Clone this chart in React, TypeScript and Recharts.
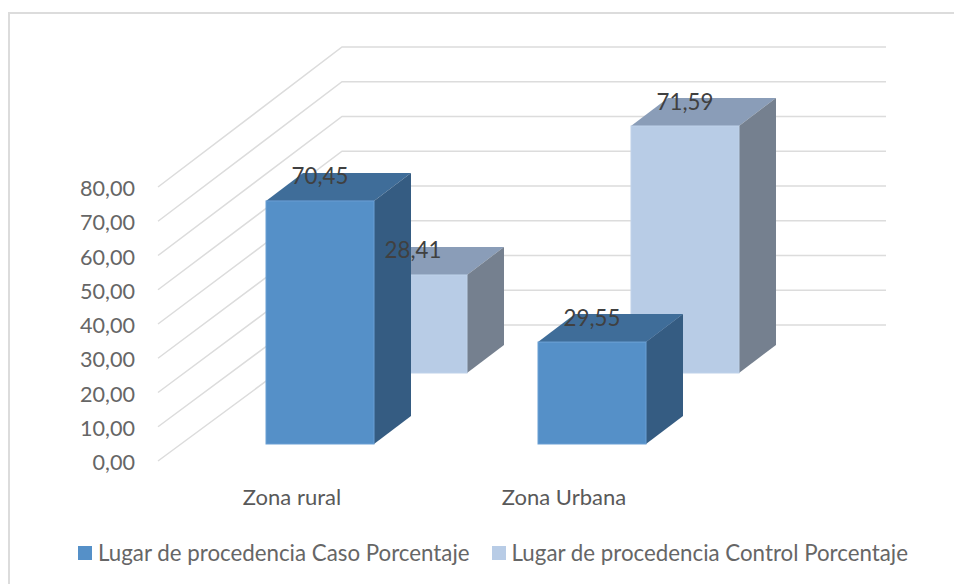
import React from "react";
import { BarChart, Bar, XAxis, YAxis, CartesianGrid, Legend, LabelList } from "recharts";

const categories = ["Zona rural", "Zona Urbana"];
const casoValues = [70.45, 29.55];
const controlValues = [28.41, 71.59];
const yTicks = [0, 10, 20, 30, 40, 50, 60, 70, 80];
const seriesNames = ["Lugar de procedencia Caso Porcentaje", "Lugar de procedencia Control Porcentaje"];

const rows = categories.map((name, i) => ({ name, caso: casoValues[i], control: controlValues[i] }));

const FONT = "Lato, 'Open Sans', sans-serif";
const DEPTH_X = 37;
const DEPTH_Y = -28;
const BACK_X = 93;
const BACK_Y = -71;
const ZERO_Y = 444;
const CASO = { face: "#5590c8", top: "#3f6d99", side: "#355c82", edge: "#6a9fd4" };
const CONTROL = { face: "#b8cce6", top: "#8a9db8", side: "#75808f", edge: "#bfd2ea" };

const fmt = (v: number) => v.toFixed(2).replace(".", ",");

function Box({ x, y, width, height, colors, dx = 0, dy = 0 }: any) {
  const l = x + dx;
  const r = x + width + dx;
  const t = y + dy;
  const b = y + height + dy;
  return (
    <g>
      <polygon points={`${l},${t} ${l + DEPTH_X},${t + DEPTH_Y} ${r + DEPTH_X},${t + DEPTH_Y} ${r},${t}`} fill={colors.top} />
      <polygon points={`${r},${t} ${r + DEPTH_X},${t + DEPTH_Y} ${r + DEPTH_X},${b + DEPTH_Y} ${r},${b}`} fill={colors.side} />
      <rect x={l} y={t} width={width} height={b - t} fill={colors.face} stroke={colors.edge} strokeWidth={1} />
    </g>
  );
}

const frontShape = (p: any) => <Box {...p} colors={CASO} />;
const backShape = (p: any) => <Box {...p} colors={CONTROL} dx={BACK_X} dy={BACK_Y} />;
const noShape = () => <g />;

const valueLabel = (dx: number, dy: number) => (p: any) => (
  <text
    x={p.x + p.width / 2 + dx}
    y={p.y + dy - 25}
    textAnchor="middle"
    dominantBaseline="central"
    fontFamily={FONT}
    fontSize={22.3}
    fill="#404040"
  >
    {fmt(Number(p.value))}
  </text>
);

const gridLine = (p: any) => {
  const rel = p.y1 - ZERO_Y;
  const fy = 461 + rel * (3.425 / 3.45);
  const by = 325 + rel * (3.475 / 3.45);
  return (
    <polyline
      key={p.key ?? p.y1}
      points={`158,${fy} 342,${by} 886,${by}`}
      fill="none"
      stroke="#dcdcdc"
      strokeWidth={1.5}
    />
  );
};

const YTick = (p: any) => {
  const rel = p.y - ZERO_Y;
  return (
    <text x={135} y={462 + rel * (3.425 / 3.45)} textAnchor="end" dominantBaseline="central" fontFamily={FONT} fontSize={21.6} fill="#666666">
      {fmt(Number(p.payload.value))}
    </text>
  );
};

const XTick = (p: any) => (
  <text x={p.x - 28} y={496} textAnchor="middle" dominantBaseline="central" fontFamily={FONT} fontSize={22} fill="#595959">
    {p.payload.value}
  </text>
);

const LegendContent = () => (
  <div style={{ display: "flex", fontFamily: FONT, fontSize: 22.3, color: "#666666", whiteSpace: "nowrap", lineHeight: "24px" }}>
    {seriesNames.map((n, i) => (
      <div key={n} style={{ display: "flex", alignItems: "center", marginRight: i === 0 ? 22 : 0 }}>
        <span style={{ width: 14, height: 14, background: i === 0 ? CASO.face : CONTROL.face, marginRight: 6, display: "inline-block" }} />
        {n}
      </div>
    ))}
  </div>
);

export default function App() {
  return (
    <div style={{ position: "absolute", left: 0, top: 0, width: 954, height: 584, background: "#fff", overflow: "hidden" }}>
      <div style={{ position: "absolute", left: 8, top: 12, width: 960, height: 600, border: "2px solid #dcdcdc", boxSizing: "border-box" }} />
      <BarChart
        width={954}
        height={584}
        data={rows}
        margin={{ top: 168, left: 124, right: 226, bottom: 110 }}
        barSize={108}
        barGap={-108}
        style={{ position: "absolute", left: 0, top: 0 }}
      >
        <CartesianGrid vertical={false} horizontal={gridLine} />
        <XAxis dataKey="name" axisLine={false} tickLine={false} height={30} tick={XTick} interval={0} />
        <YAxis width={60} domain={[0, 80]} ticks={yTicks} axisLine={false} tickLine={false} tick={YTick} interval={0} />
        <Bar dataKey="control" name={seriesNames[1]} shape={backShape} isAnimationActive={false} legendType="none" />
        <Bar dataKey="caso" name={seriesNames[0]} shape={frontShape} isAnimationActive={false} legendType="none" />
        <Bar dataKey="control" shape={noShape} isAnimationActive={false} legendType="none">
          <LabelList dataKey="control" content={valueLabel(BACK_X, BACK_Y)} />
        </Bar>
        <Bar dataKey="caso" shape={noShape} isAnimationActive={false} legendType="none">
          <LabelList dataKey="caso" content={valueLabel(0, 0)} />
        </Bar>
        <Legend
          layout="horizontal"
          align="center"
          verticalAlign="middle"
          content={LegendContent}
          wrapperStyle={{ position: "absolute", left: 78, top: 541, width: "auto" }}
        />
      </BarChart>
    </div>
  );
}
